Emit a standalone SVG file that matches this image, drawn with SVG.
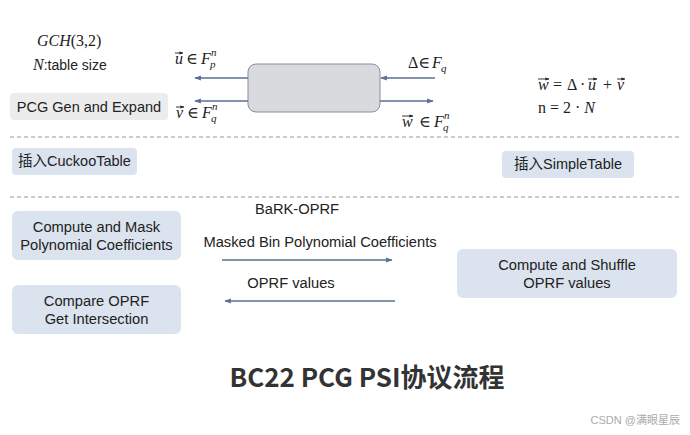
<svg xmlns="http://www.w3.org/2000/svg" width="690" height="435" viewBox="0 0 690 435">
<defs>
<style>
.sans{font-family:"Liberation Sans","Noto Sans CJK SC",sans-serif;fill:#222;}
.math{font-family:"Liberation Serif","DejaVu Serif",serif;font-style:italic;fill:#222;}
.mathr{font-family:"Liberation Serif","DejaVu Serif",serif;font-style:normal;fill:#222;}
.blue{fill:#dbe3ef;}
.grey{fill:#ececec;}
.dash{stroke:#999;stroke-width:1.2;stroke-dasharray:4 3;fill:none;}
.conn{stroke:#5b6f96;stroke-width:1.3;fill:none;marker-end:url(#ah);}
.vec{stroke:#222;stroke-width:0.9;fill:none;marker-end:url(#vh);}
</style>
<marker id="ah" viewBox="0 0 10 10" refX="9" refY="5" markerWidth="5" markerHeight="5" orient="auto">
<path d="M0,1 L10,5 L0,9 z" fill="#5b6f96"/>
</marker>
<marker id="vh" viewBox="0 0 10 10" refX="9" refY="5" markerWidth="4" markerHeight="4" orient="auto" markerUnits="userSpaceOnUse">
<path d="M0,1 L10,5 L0,9 z" fill="#222"/>
</marker>
</defs>
<rect width="690" height="435" fill="#fff"/>

<g id="params">
<text class="math" x="37" y="46" font-size="16">GCH<tspan class="mathr">(3,2)</tspan></text>
<text x="33" y="70" font-size="16"><tspan class="math">N</tspan><tspan class="sans" font-size="14">:table size</tspan></text>
</g>

<g id="pcg-gen">
<rect class="grey" x="10" y="93" width="158" height="27" rx="4"/>
<text class="sans" x="89" y="112" font-size="14.5" text-anchor="middle">PCG Gen and Expand</text>
</g>

<g id="pcg-box">
<rect x="248" y="64" width="132" height="48" rx="8" fill="#d9dadd" stroke="#8a8f99" stroke-width="1"/>
</g>

<g id="labels-math">
<text font-size="16"><tspan class="math" x="175" y="64">u</tspan><tspan class="mathr" x="186" y="64">∈</tspan><tspan class="math" x="201" y="64">F</tspan><tspan class="math" x="210" y="68" font-size="11">p</tspan><tspan class="math" x="211" y="56" font-size="11">n</tspan></text>
<path class="vec" d="M175,53 H183"/>
<text font-size="16"><tspan class="math" x="176" y="118">v</tspan><tspan class="mathr" x="187" y="118">∈</tspan><tspan class="math" x="202" y="118">F</tspan><tspan class="math" x="211" y="122" font-size="11">q</tspan><tspan class="math" x="212" y="110" font-size="11">n</tspan></text>
<path class="vec" d="M176,107 H184"/>
<text font-size="16"><tspan class="mathr" x="408" y="68">Δ∈</tspan><tspan class="math" x="432" y="68">F</tspan><tspan class="math" x="441" y="72" font-size="11">q</tspan></text>
<text font-size="16"><tspan class="math" x="402" y="127">w</tspan><tspan class="mathr" x="419" y="127">∈</tspan><tspan class="math" x="434" y="127">F</tspan><tspan class="math" x="443" y="131" font-size="11">q</tspan><tspan class="math" x="444" y="119" font-size="11">n</tspan></text>
<path class="vec" d="M402,116 H413"/>
<text font-size="16"><tspan class="math" x="538" y="90">w</tspan><tspan class="mathr" x="553" y="90">=</tspan><tspan class="mathr" x="567" y="90">Δ</tspan><tspan class="mathr" x="580" y="90">·</tspan><tspan class="math" x="588" y="90">u</tspan><tspan class="mathr" x="603" y="90">+</tspan><tspan class="math" x="617" y="90">v</tspan></text>
<path class="vec" d="M538,79 H549"/>
<path class="vec" d="M588,79 H597"/>
<path class="vec" d="M617,79 H625"/>
<text class="mathr" x="538" y="113" font-size="16">n = 2 · <tspan class="math">N</tspan></text>
</g>

<g id="separators">
<line class="dash" x1="10" y1="137" x2="680" y2="137"/>
<line class="dash" x1="10" y1="197" x2="680" y2="197"/>
</g>

<g id="cuckoo">
<rect class="blue" x="12" y="148" width="125" height="27" rx="4"/>
<text class="sans" x="74.5" y="166" font-size="14.5" text-anchor="middle">插入CuckooTable</text>
</g>
<g id="simple">
<rect class="blue" x="502" y="151" width="132" height="27" rx="4"/>
<text class="sans" x="568" y="169" font-size="14.5" text-anchor="middle">插入SimpleTable</text>
</g>

<g id="compute-mask">
<rect class="blue" x="12" y="211" width="169" height="49" rx="6"/>
<text class="sans" x="96.5" y="232" font-size="14.7" text-anchor="middle">Compute and Mask</text>
<text class="sans" x="96.5" y="250" font-size="14.7" text-anchor="middle">Polynomial Coefficients</text>
</g>
<g id="compare">
<rect class="blue" x="12" y="285" width="169" height="49" rx="6"/>
<text class="sans" x="96.5" y="306" font-size="14.7" text-anchor="middle">Compare OPRF</text>
<text class="sans" x="96.5" y="324" font-size="14.7" text-anchor="middle">Get Intersection</text>
</g>
<g id="shuffle">
<rect class="blue" x="457" y="249" width="220" height="49" rx="6"/>
<text class="sans" x="567" y="270" font-size="14.7" text-anchor="middle">Compute and Shuffle</text>
<text class="sans" x="567" y="288" font-size="14.7" text-anchor="middle">OPRF values</text>
</g>

<g id="edge-labels">
<text class="sans" x="297" y="214" font-size="14.7" text-anchor="middle">BaRK-OPRF</text>
<text class="sans" x="320" y="247" font-size="14.7" text-anchor="middle">Masked Bin Polynomial Coefficients</text>
<text class="sans" x="291" y="288" font-size="14.7" text-anchor="middle">OPRF values</text>
</g>

<g id="connectors">
<line class="conn" x1="248" y1="78" x2="195" y2="78"/>
<line class="conn" x1="248" y1="101" x2="195" y2="101"/>
<line class="conn" x1="435" y1="78" x2="381" y2="78"/>
<line class="conn" x1="380" y1="101" x2="433" y2="101"/>
<line class="conn" x1="222" y1="260" x2="392" y2="260"/>
<line class="conn" x1="395" y1="301" x2="225" y2="301"/>
</g>

<g id="title">
<text x="367" y="387" font-size="26" font-weight="bold" text-anchor="middle" font-family="'Noto Sans CJK SC','Noto Sans',sans-serif" fill="#333">BC22 PCG PSI协议流程</text>
</g>
<text x="680" y="424" font-size="11" text-anchor="end" font-family="'Liberation Sans','Noto Sans CJK SC',sans-serif" fill="#aaa">CSDN @满眼星辰</text>
</svg>
